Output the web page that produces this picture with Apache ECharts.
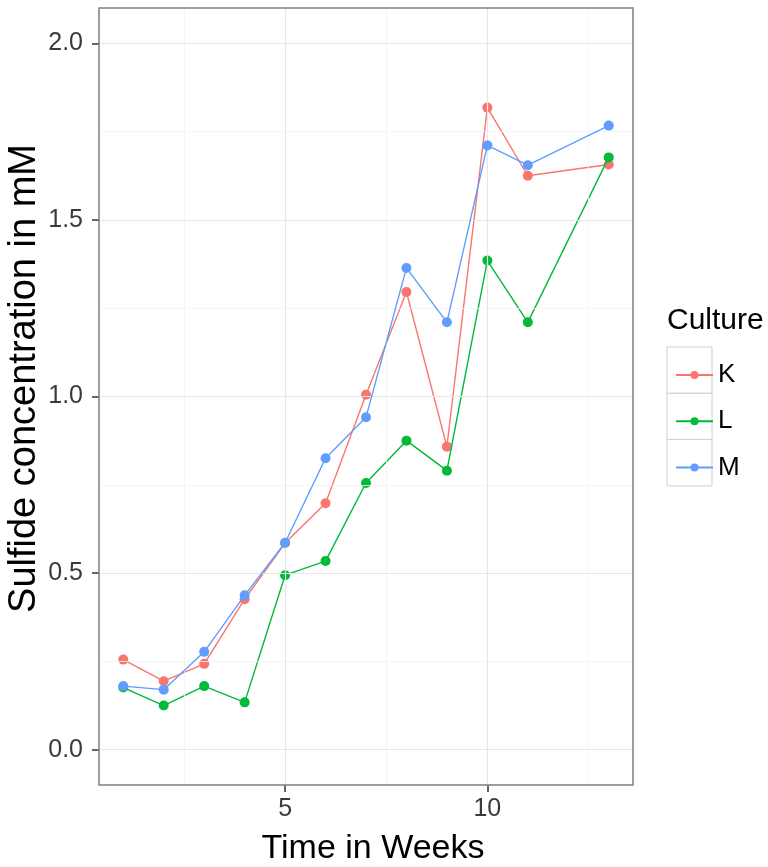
<!DOCTYPE html>
<html>
<head>
<meta charset="utf-8">
<script src="https://cdn.jsdelivr.net/npm/echarts@6/dist/echarts.min.js"></script>
<style>
  html, body { margin: 0; padding: 0; background: #fff; }
  #chart { width: 768px; height: 867px; }
</style>
</head>
<body>
<div id="chart"></div>
<script>
// Sampling weeks and sulfide concentration (mM) per culture
const weeks = [1, 2, 3, 4, 5, 6, 7, 8, 9, 10, 11, 13];
const cultureK = [0.255, 0.194, 0.243, 0.426, 0.585, 0.698, 1.005, 1.296, 0.858, 1.818, 1.625, 1.657];
const cultureL = [0.176, 0.125, 0.180, 0.134, 0.494, 0.534, 0.755, 0.875, 0.790, 1.385, 1.210, 1.677];
const cultureM = [0.180, 0.170, 0.277, 0.437, 0.586, 0.825, 0.941, 1.364, 1.210, 1.711, 1.655, 1.767];

const cultureNames = ['K', 'L', 'M'];
const cultureColors = ['#F8766D', '#00BA38', '#619CFF'];

// Axis ticks and grid lines
const xTicks = [5, 10];
const xMinorGrid = [2.5, 7.5, 12.5];
const yTicks = [0, 0.5, 1.0, 1.5, 2.0];
const yMinorGrid = [0.25, 0.75, 1.25, 1.75];

const FONT = 'Liberation Sans, Arial, sans-serif';

const chart = echarts.init(document.getElementById('chart'), null, { renderer: 'canvas' });

const pairs = (xs, ys) => xs.map((x, i) => [x, ys[i]]);
const valueSets = [cultureK, cultureL, cultureM];

const gridLine = (key, v, color, width) => ({
  [key]: v,
  lineStyle: { color: color, width: width, type: 'solid' }
});

const gridSeries = {
  type: 'scatter',
  name: '__grid',
  data: [],
  z: 1,
  silent: true,
  markLine: {
    silent: true,
    symbol: ['none', 'none'],
    label: { show: false },
    emphasis: { disabled: true },
    animation: false,
    data: [
      ...xMinorGrid.map(v => gridLine('xAxis', v, '#F3F3F3', 0.8)),
      ...yMinorGrid.map(v => gridLine('yAxis', v, '#F3F3F3', 0.8)),
      ...xTicks.map(v => gridLine('xAxis', v, '#E6E6E6', 1.2)),
      ...yTicks.map(v => gridLine('yAxis', v, '#E6E6E6', 1.2))
    ]
  }
};

const dataSeries = cultureNames.map((name, i) => ({
  type: 'line',
  name: name,
  data: pairs(weeks, valueSets[i]),
  z: 3 + i,
  symbol: 'circle',
  symbolSize: 10,
  showSymbol: true,
  itemStyle: { color: cultureColors[i] },
  lineStyle: { color: cultureColors[i], width: 1.4 },
  emphasis: { disabled: true },
  animation: false
}));

chart.setOption({
  backgroundColor: '#ffffff',
  animation: false,
  grid: {
    left: 99, right: 135, top: 8, bottom: 82,
    containLabel: false,
    outerBoundsMode: 'none',
    show: true,
    borderColor: '#7F7F7F',
    borderWidth: 1.5,
    backgroundColor: 'transparent',
    z: 10
  },
  xAxis: {
    type: 'value',
    min: 0.4,
    max: 13.6,
    name: 'Time in Weeks',
    nameLocation: 'middle',
    nameGap: 47,
    nameMoveOverlap: false,
    nameTextStyle: { fontFamily: FONT, fontSize: 34, color: '#000', padding: [0, 0, 0, 14] },
    axisLine: { show: false, onZero: false },
    axisTick: {
      show: true, customValues: xTicks, length: 7, inside: false,
      lineStyle: { color: '#333', width: 1.5 }
    },
    axisLabel: {
      show: true, customValues: xTicks, margin: 12,
      fontFamily: FONT, fontSize: 25, color: '#3A3A3A',
      formatter: v => String(v)
    },
    splitLine: { show: false },
    minorSplitLine: { show: false }
  },
  yAxis: {
    type: 'value',
    min: -0.1,
    max: 2.1,
    name: 'Sulfide concentration in mM',
    nameLocation: 'middle',
    nameGap: 55,
    nameMoveOverlap: false,
    nameRotate: 90,
    nameTextStyle: { fontFamily: FONT, fontSize: 38, color: '#000', padding: [0, 0, 0, 36] },
    axisLine: { show: false, onZero: false },
    axisTick: {
      show: true, customValues: yTicks, length: 7, inside: false,
      lineStyle: { color: '#333', width: 1.5 }
    },
    axisLabel: {
      show: true, customValues: yTicks, margin: 16,
      fontFamily: FONT, fontSize: 25, color: '#3A3A3A',
      formatter: v => v.toFixed(1)
    },
    splitLine: { show: false },
    minorSplitLine: { show: false }
  },
  legend: {
    data: cultureNames,
    orient: 'vertical',
    left: 670,
    top: 356,
    itemWidth: 37,
    itemHeight: 10,
    itemGap: 18.3,
    selectedMode: false,
    textStyle: {
      fontFamily: FONT, fontSize: 26, color: '#000',
      lineHeight: 28, padding: [0, 0, 0, 0]
    }
  },
  graphic: [
    {
      type: 'text', left: 667, top: 306, silent: true,
      style: { text: 'Culture', fontFamily: FONT, fontSize: 30, fill: '#000' }
    },
    ...cultureNames.map((n, i) => ({
      type: 'rect', silent: true, z: -1,
      shape: { x: 667, y: 347 + i * 46.3, width: 45, height: 46.3 },
      style: { fill: '#fff', stroke: '#CFCFCF', lineWidth: 1 }
    }))
  ],
  series: [gridSeries, ...dataSeries]
});
</script>
</body>
</html>
